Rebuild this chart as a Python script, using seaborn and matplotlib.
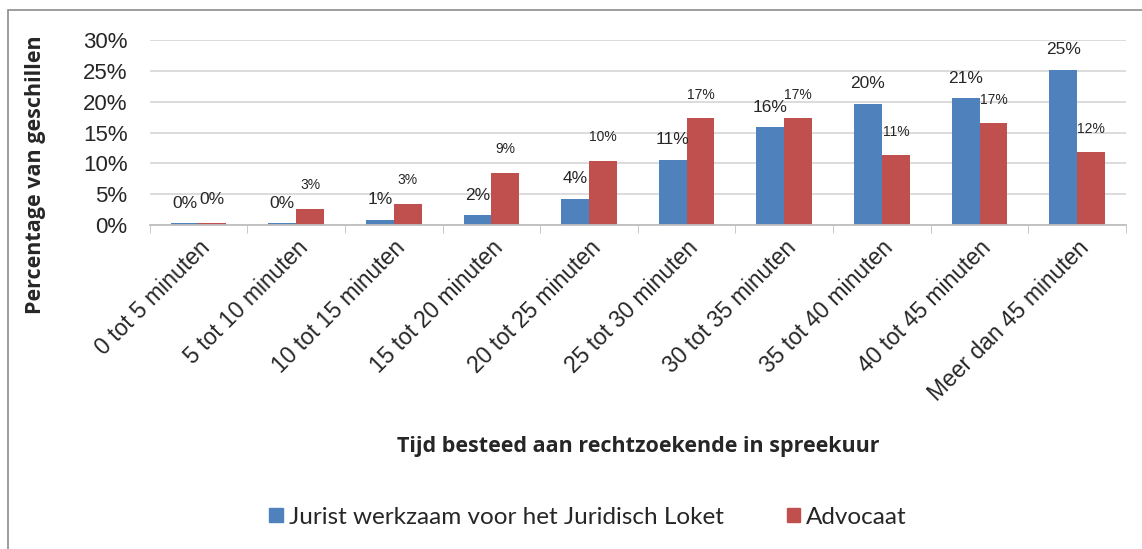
import numpy as np
import pandas as pd
import seaborn as sns
import matplotlib.pyplot as plt
from matplotlib.patches import Rectangle

categories = ['0 tot 5 minuten', '5 tot 10 minuten', '10 tot 15 minuten', '15 tot 20 minuten',
              '20 tot 25 minuten', '25 tot 30 minuten', '30 tot 35 minuten', '35 tot 40 minuten',
              '40 tot 45 minuten', 'Meer dan 45 minuten']
jurist = [0.3, 0.3, 0.9, 1.6, 4.3, 10.6, 15.9, 19.7, 20.6, 25.2]
advocaat = [0.3, 2.6, 3.4, 8.5, 10.4, 17.3, 17.3, 11.3, 16.5, 11.8]
jurist_labels = ['0%', '0%', '1%', '2%', '4%', '11%', '16%', '20%', '21%', '25%']
advocaat_labels = ['0%', '3%', '3%', '9%', '10%', '17%', '17%', '11%', '17%', '12%']
series = ['Jurist werkzaam voor het Juridisch Loket', 'Advocaat']

df = pd.DataFrame({
    'Tijd': categories * 2,
    'Percentage': jurist + advocaat,
    'Groep': [series[0]] * 10 + [series[1]] * 10,
})

sns.set_style('white')
plt.rcParams['font.family'] = ['Liberation Sans', 'DejaVu Sans']

fig = plt.figure(figsize=(11.42, 5.49), dpi=100)
ax = fig.add_axes([0.131, 0.590, 0.855, 0.337])

sns.barplot(data=df, x='Tijd', y='Percentage', hue='Groep', palette=['#4F81BD', '#C0504D'],
            width=0.57, gap=0, saturation=1, ax=ax, edgecolor='none', legend=False)

# data labels (Jurist bigger, Advocaat smaller)
ax.bar_label(ax.containers[0], labels=jurist_labels, padding=9, fontsize=12.5)
adv_sizes = [12.5] + [10] * 9
for rect, lab, fs in zip(ax.containers[1], advocaat_labels, adv_sizes):
    ax.annotate(lab, (rect.get_x() + rect.get_width() / 2, rect.get_height()),
                xytext=(0, 12), textcoords='offset points', ha='center', va='bottom', fontsize=fs)

ax.set_ylim(0, 30)
ax.set_yticks(np.arange(0, 31, 5))
ax.set_yticklabels([f'{v}%' for v in range(0, 31, 5)], fontsize=16)
ax.yaxis.grid(True, color='#d9d9d9', linewidth=1.3)
ax.set_axisbelow(True)
ax.set_xlim(-0.5, 9.5)
ax.set_xticks(range(10))
ax.set_xticklabels(categories, rotation=45, ha='right', rotation_mode='anchor', fontsize=16.5)
ax.set_xticks(np.arange(-0.5, 10, 1), minor=True)
ax.tick_params(axis='x', which='major', length=0, pad=8)
ax.tick_params(axis='x', which='minor', length=6, color='#bfbfbf', direction='out', bottom=True)
ax.tick_params(axis='y', length=0, pad=16)
for s in ['top', 'right', 'left']:
    ax.spines[s].set_visible(False)
ax.spines['bottom'].set_color('#bfbfbf')
ax.spines['bottom'].set_linewidth(1.3)

ax.set_ylabel('')
ax.set_xlabel('')
fig.text(0.031, 0.681, 'Percentage van geschillen', rotation=90, ha='center', va='center',
         fontsize=15.5, fontweight='bold', family=['Open Sans', 'DejaVu Sans'])
fig.text(0.559, 0.186, 'Tijd besteed aan rechtzoekende in spreekuur', ha='center', va='center',
         fontsize=15.5, fontweight='bold', family=['Open Sans', 'DejaVu Sans'])

handles = [Rectangle((0, 0), 1, 1, color='#4F81BD'), Rectangle((0, 0), 1, 1, color='#C0504D')]
fig.legend(handles, series, loc='center', bbox_to_anchor=(0.515, 0.058), ncol=2, frameon=False,
           prop={'family': ['Lato', 'DejaVu Sans'], 'size': 17.5}, handlelength=0.55, handleheight=0.55,
           handletextpad=0.25, columnspacing=2.6)

fig.patches.append(Rectangle((0.007, -0.05), 1.1, 1.032, transform=fig.transFigure, fill=False,
                             edgecolor='#8c8c8c', linewidth=1.2))

fig.savefig('out.png', dpi=100)
